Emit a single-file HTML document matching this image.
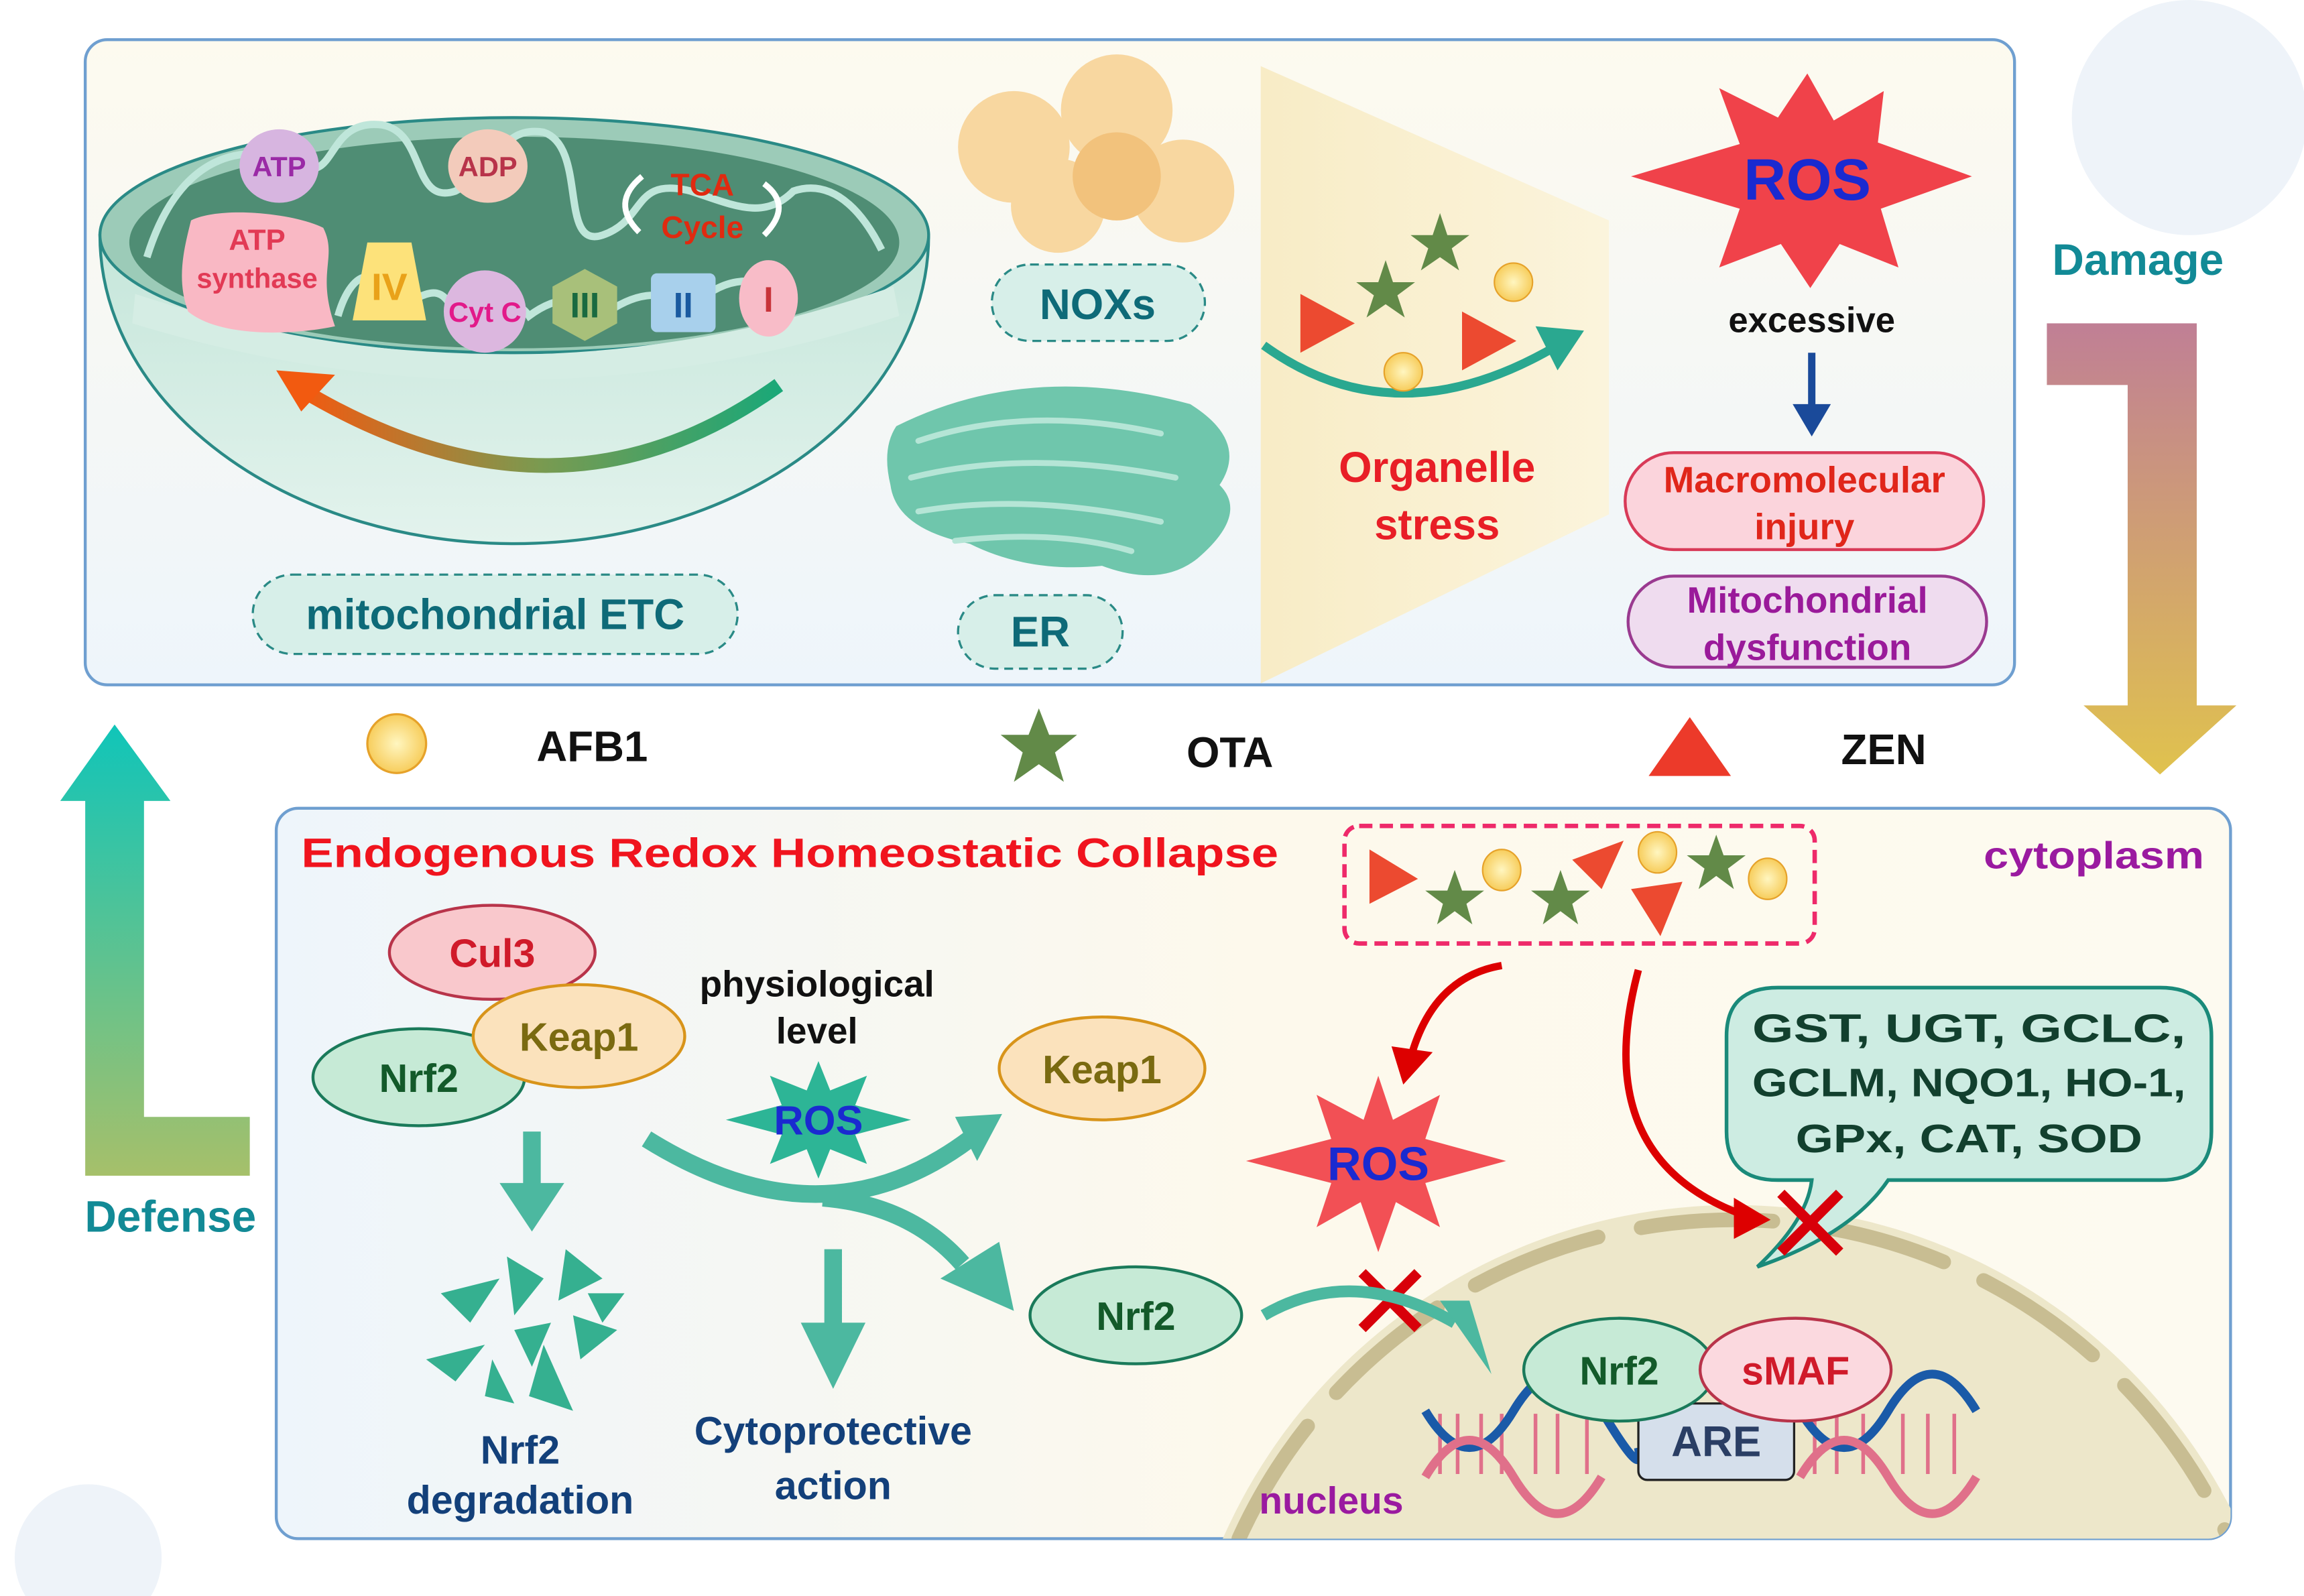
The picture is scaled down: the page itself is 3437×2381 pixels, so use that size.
<!DOCTYPE html>
<html><head><meta charset="utf-8"><style>
html,body{margin:0;padding:0;background:#fff;width:3437px;height:2381px;overflow:hidden}
svg{display:block;position:absolute;left:0;top:0}
text{font-family:"Liberation Sans",Arial,sans-serif;font-weight:bold;text-anchor:middle}
</style></head><body>
<svg width="3437" height="2381" viewBox="0 0 1568 1086" preserveAspectRatio="none" xmlns="http://www.w3.org/2000/svg">
<defs>
<linearGradient id="topbg" x1="0" y1="0" x2="0" y2="1"><stop offset="0" stop-color="#fdfaef"/><stop offset="1" stop-color="#eef5fb"/></linearGradient>
<linearGradient id="botbg" x1="0" y1="0" x2="1" y2="0"><stop offset="0" stop-color="#eef5fb"/><stop offset="0.5" stop-color="#fdf9ec"/><stop offset="1" stop-color="#fdfaf0"/></linearGradient>
<linearGradient id="bowl" x1="0" y1="0" x2="0" y2="1"><stop offset="0" stop-color="#c5e6da"/><stop offset="1" stop-color="#e3f3ed"/></linearGradient>
<linearGradient id="orarrow" x1="1" y1="0" x2="0" y2="0"><stop offset="0" stop-color="#1aa878"/><stop offset="0.5" stop-color="#7a9a50"/><stop offset="1" stop-color="#f25a10"/></linearGradient>
<linearGradient id="dmg" x1="0" y1="0" x2="0" y2="1"><stop offset="0" stop-color="#c07f95"/><stop offset="1" stop-color="#e0c24e"/></linearGradient>
<linearGradient id="def" x1="0" y1="0" x2="0" y2="1"><stop offset="0" stop-color="#10c5b9"/><stop offset="1" stop-color="#a6c06a"/></linearGradient>
<linearGradient id="tri" x1="0" y1="0" x2="1" y2="0"><stop offset="0" stop-color="#f8ecc6"/><stop offset="1" stop-color="#fbf4dc"/></linearGradient>
<radialGradient id="sun"><stop offset="0" stop-color="#fff6c0"/><stop offset="1" stop-color="#f7cd5c"/></radialGradient>
</defs>
<rect width="1568" height="1086" fill="#fff"/>
<circle cx="1490" cy="80" r="80" fill="#eef3f9"/>
<circle cx="60" cy="1060" r="50" fill="#eef3f9"/>
<!-- top panel -->
<rect x="58" y="27" width="1313" height="439" rx="15" fill="url(#topbg)" stroke="#6f9fd0" stroke-width="2"/>
<!-- mitochondrion -->
<path d="M68,160 A282,210 0 0 0 632,160 Z" fill="url(#bowl)" stroke="#2a8a86" stroke-width="2"/>
<ellipse cx="350" cy="160" rx="282" ry="80" fill="#9ccbb8" stroke="#2a8a86" stroke-width="2"/>
<ellipse cx="350" cy="165" rx="262" ry="72" fill="#4f8d74"/>
<path d="M92,200 Q350,285 608,195 L612,215 Q350,300 90,220 Z" fill="#d5ede4"/>
<path d="M530,262 Q380,370 205,265" fill="none" stroke="url(#orarrow)" stroke-width="10"/>
<polygon points="188,252 228,255 205,280" fill="#f25a10"/>
<path d="M100,175 C120,110 160,95 200,110 C230,130 220,80 260,85 C290,90 280,140 310,130 C340,115 340,85 370,90 C400,100 380,170 410,160 C440,150 430,120 470,130 C500,140 520,150 540,130 C570,120 590,150 600,170" fill="none" stroke="#bfe6da" stroke-width="5"/>
<path d="M230,215 C240,180 260,180 270,210 C290,200 300,190 310,215 C330,205 350,200 360,215 C380,200 400,200 410,215 C430,200 450,195 470,210 C490,190 510,185 540,200" fill="none" stroke="#bfe6da" stroke-width="5"/>
<ellipse cx="190" cy="113" rx="27" ry="25" fill="#d7b5e0"/><text x="190" y="120" font-size="19" fill="#9a2aa6">ATP</text>
<ellipse cx="332" cy="113" rx="27" ry="25" fill="#f3cbbb"/><text x="332" y="120" font-size="19" fill="#b8344a">ADP</text>
<text x="478" y="133" font-size="21" fill="#e02a10">TCA</text><text x="478" y="162" font-size="21" fill="#e02a10">Cycle</text>
<path d="M435,158 Q415,138 437,120" fill="none" stroke="#fff" stroke-width="4"/><path d="M520,125 Q540,140 520,160" fill="none" stroke="#fff" stroke-width="4"/>
<path d="M130,150 C150,140 200,145 220,155 C230,175 215,185 228,222 C200,228 150,230 128,212 C120,190 125,170 130,150 Z" fill="#f9b8c4"/>
<text x="175" y="170" font-size="20" fill="#e23a55">ATP</text><text x="175" y="196" font-size="19" fill="#e23a55">synthase</text>
<polygon points="250,165 280,165 290,218 240,218" fill="#fde27a"/><text x="265" y="204" font-size="26" fill="#e9a21a" font-weight="normal">IV</text>
<circle cx="330" cy="212" r="28" fill="#dcb7df"/><text x="330" y="219" font-size="19" fill="#e21a8a">Cyt C</text>
<polygon points="398,183 420,195 420,220 398,232 376,220 376,195" fill="#a8c07a"/><text x="398" y="216" font-size="24" fill="#1a6a40">III</text>
<rect x="443" y="186" width="44" height="40" rx="4" fill="#a8d0ec"/><text x="465" y="216" font-size="24" fill="#1a5aa0">II</text>
<ellipse cx="523" cy="203" rx="20" ry="26" fill="#f8bcc8"/><text x="523" y="212" font-size="24" fill="#c8343a" font-weight="normal">I</text>
<rect x="172" y="391" width="330" height="54" rx="27" fill="#d7efe9" stroke="#2a8a86" stroke-width="1.5" stroke-dasharray="6,4"/>
<text x="337" y="428" font-size="29" fill="#0e6a78">mitochondrial ETC</text>
<!-- NOXs -->
<g fill="#f8d7a0"><circle cx="690" cy="100" r="38"/><circle cx="760" cy="75" r="38"/><circle cx="805" cy="130" r="35"/><circle cx="720" cy="140" r="32"/><circle cx="760" cy="120" r="30" fill="#f2c27c"/></g>
<rect x="675" y="180" width="145" height="52" rx="26" fill="#d7efe9" stroke="#2a8a86" stroke-width="1.5" stroke-dasharray="6,4"/>
<text x="747" y="217" font-size="29" fill="#0e6a78">NOXs</text>
<!-- ER -->
<path d="M610,290 Q700,245 810,275 Q850,300 830,330 Q850,350 815,380 Q790,400 750,385 Q700,390 660,370 Q610,360 606,330 Q600,305 610,290 Z" fill="#6fc6ac"/>
<g fill="none" stroke="#b5e5d6" stroke-width="4" stroke-linecap="round">
<path d="M625,300 Q700,275 790,295"/><path d="M620,325 Q700,305 800,325"/><path d="M625,348 Q700,335 790,355"/><path d="M650,368 Q720,360 770,375"/></g>
<rect x="652" y="405" width="112" height="50" rx="25" fill="#d7efe9" stroke="#2a8a86" stroke-width="1.5" stroke-dasharray="6,4"/>
<text x="708" y="440" font-size="29" fill="#0e6a78">ER</text>
<!-- organelle stress -->
<polygon points="858,45 1095,150 1095,350 858,465" fill="url(#tri)"/>
<path d="M860,235 Q950,300 1060,235" fill="none" stroke="#2aa890" stroke-width="6"/><polygon points="1045,222 1078,225 1060,252" fill="#2aa890"/>
<polygon points="885,200 922,220 885,240" fill="#ec4a30"/><polygon points="995,212 1032,232 995,252" fill="#ec4a30"/>
<polygon points="980,145 985,160 1000,160 988,169 993,184 980,175 967,184 972,169 960,160 975,160" fill="#628a48"/>
<polygon points="943,177 948,192 963,192 951,201 956,216 943,207 930,216 935,201 923,192 938,192" fill="#628a48"/>
<circle cx="1030" cy="192" r="13" fill="url(#sun)" stroke="#e6a22a"/><circle cx="955" cy="253" r="13" fill="url(#sun)" stroke="#e6a22a"/>
<text x="978" y="328" font-size="29" fill="#e81e26">Organelle</text><text x="978" y="367" font-size="29" fill="#e81e26">stress</text>
<!-- ROS top -->
<polygon points="1230,50 1248,82 1282,62 1278,97 1342,120 1280,142 1292,182 1252,166 1232,196 1212,166 1170,182 1184,142 1110,120 1184,98 1170,60 1210,80" fill="#f0424a"/>
<text x="1230" y="136" font-size="40" fill="#1a2ad0">ROS</text>
<text x="1233" y="226" font-size="24" fill="#111">excessive</text>
<line x1="1233" y1="240" x2="1233" y2="282" stroke="#1a4a9a" stroke-width="5"/><polygon points="1220,275 1246,275 1233,297" fill="#1a4a9a"/>
<rect x="1106" y="308" width="244" height="66" rx="33" fill="#fbd4dc" stroke="#d83a58" stroke-width="2"/>
<text x="1228" y="335" font-size="25" fill="#e0261a">Macromolecular</text><text x="1228" y="367" font-size="25" fill="#e0261a">injury</text>
<rect x="1108" y="392" width="244" height="62" rx="31" fill="#efdcef" stroke="#9a3a90" stroke-width="2"/>
<text x="1230" y="417" font-size="25" fill="#9a1a9a">Mitochondrial</text><text x="1230" y="449" font-size="25" fill="#9a1a9a">dysfunction</text>
<!-- Damage -->
<text x="1455" y="187" font-size="30" fill="#128a96">Damage</text>
<path d="M1393,220 L1495,220 L1495,480 L1522,480 L1470,527 L1418,480 L1448,480 L1448,262 L1393,262 Z" fill="url(#dmg)"/>
<!-- Defense -->
<path d="M41,545 L78,493 L116,545 L98,545 L98,760 L170,760 L170,800 L58,800 L58,545 Z" fill="url(#def)"/>
<text x="116" y="838" font-size="30" fill="#128a96">Defense</text>
<!-- legend -->
<circle cx="270" cy="506" r="20" fill="url(#sun)" stroke="#e6a22a" stroke-width="1.5"/><text x="403" y="518" font-size="29" fill="#111">AFB1</text>
<polygon points="707,482 714,500 733,500 718,512 724,532 707,520 690,532 696,512 681,500 700,500" fill="#628a48"/><text x="837" y="522" font-size="29" fill="#111">OTA</text>
<polygon points="1150,488 1178,528 1122,528" fill="#ec3a2a"/><text x="1282" y="520" font-size="29" fill="#111">ZEN</text>
<!-- bottom panel -->
<rect x="188" y="550" width="1330" height="497" rx="15" fill="url(#botbg)" stroke="#6f9fd0" stroke-width="2"/>
<text x="205" y="590" font-size="28" fill="#f0141e" style="text-anchor:start" textLength="665" lengthAdjust="spacingAndGlyphs">Endogenous Redox Homeostatic Collapse</text>
<text x="1425" y="591" font-size="26" fill="#9a1aa0" textLength="150" lengthAdjust="spacingAndGlyphs">cytoplasm</text>
<!-- nucleus -->
<clipPath id="pc"><rect x="188" y="550" width="1330" height="497" rx="15"/></clipPath>
<g clip-path="url(#pc)">
<circle cx="1180" cy="1200" r="380" fill="#ede7ca"/>
<circle cx="1180" cy="1200" r="370" fill="none" stroke="#c8bd92" stroke-width="10" stroke-dasharray="90,30" stroke-linecap="round"/>
</g>
<text x="906" y="1030" font-size="26" fill="#9a1aa0">nucleus</text>
<!-- red dashed box -->
<rect x="915" y="562" width="320" height="80" rx="10" fill="none" stroke="#ee2a6a" stroke-width="3" stroke-dasharray="9,5"/>
<polygon points="932,578 965,598 932,615" fill="#ec4a30"/><polygon points="1070,585 1105,572 1090,605" fill="#ec4a30"/><polygon points="1110,605 1145,600 1130,637" fill="#ec4a30"/>
<polygon points="990,592 995,606 1010,606 998,615 1002,629 990,620 978,629 982,615 970,606 985,606" fill="#628a48"/>
<polygon points="1062,592 1067,606 1082,606 1070,615 1074,629 1062,620 1050,629 1054,615 1042,606 1057,606" fill="#628a48"/>
<polygon points="1168,568 1173,582 1188,582 1176,591 1180,605 1168,596 1156,605 1160,591 1148,582 1163,582" fill="#628a48"/>
<ellipse cx="1022" cy="592" rx="13" ry="14" fill="url(#sun)" stroke="#e6a22a"/><ellipse cx="1128" cy="580" rx="13" ry="14" fill="url(#sun)" stroke="#e6a22a"/><ellipse cx="1203" cy="598" rx="13" ry="14" fill="url(#sun)" stroke="#e6a22a"/>
<!-- red arrows -->
<path d="M1022,657 Q975,665 960,720" fill="none" stroke="#d00" stroke-width="5"/><polygon points="947,712 975,716 955,738" fill="#d00"/>
<path d="M1115,660 Q1080,790 1190,828" fill="none" stroke="#d00" stroke-width="5"/><polygon points="1180,815 1205,830 1180,843" fill="#d00"/>
<!-- ROS red -->
<polygon points="938,732 948,762 980,745 970,775 1025,790 970,805 980,835 950,818 938,852 926,818 896,835 906,805 848,790 906,775 896,745 928,762" fill="#f25055"/>
<text x="938" y="803" font-size="32" fill="#1a2ad0">ROS</text>
<!-- speech bubble -->
<path d="M1210,672 L1470,672 Q1505,672 1505,705 L1505,770 Q1505,803 1470,803 L1285,803 Q1260,840 1196,862 Q1230,830 1233,803 L1210,803 Q1175,803 1175,770 L1175,705 Q1175,672 1210,672 Z" fill="#cdece2" stroke="#1a8a7a" stroke-width="2.5"/>
<g font-size="27" fill="#12402e"><text x="1340" y="709" textLength="295" lengthAdjust="spacingAndGlyphs">GST, UGT, GCLC,</text><text x="1340" y="746" textLength="295" lengthAdjust="spacingAndGlyphs">GCLM, NQO1, HO-1,</text><text x="1340" y="784" textLength="236" lengthAdjust="spacingAndGlyphs">GPx, CAT, SOD</text></g>
<!-- X marks -->
<g stroke="#d8000a" stroke-width="7"><line x1="1212" y1="812" x2="1252" y2="852"/><line x1="1252" y1="812" x2="1212" y2="852"/><line x1="927" y1="866" x2="965" y2="904"/><line x1="965" y1="866" x2="927" y2="904"/></g>
<!-- left cluster -->
<ellipse cx="335" cy="648" rx="70" ry="32" fill="#f9c8cc" stroke="#b8344a" stroke-width="2"/><text x="335" y="658" font-size="27" fill="#d01a2a">Cul3</text>
<ellipse cx="285" cy="733" rx="72" ry="33" fill="#c6ead6" stroke="#1a7a5a" stroke-width="2"/><text x="285" y="743" font-size="27" fill="#135a2a">Nrf2</text>
<ellipse cx="394" cy="705" rx="72" ry="35" fill="#fbe2bc" stroke="#d8941a" stroke-width="2"/><text x="394" y="715" font-size="27" fill="#7a6a10">Keap1</text>
<text x="556" y="678" font-size="25" fill="#111">physiological</text><text x="556" y="710" font-size="25" fill="#111">level</text>
<polygon points="557,722 565,742 590,732 582,752 620,762 582,772 590,792 565,782 557,802 549,782 524,792 532,772 494,762 532,752 524,732 549,742" fill="#2db596"/>
<text x="557" y="772" font-size="28" fill="#1a2ad0">ROS</text>
<!-- teal arrows -->
<path d="M440,775 Q560,850 660,775" fill="none" stroke="#4cb8a0" stroke-width="12"/><polygon points="650,760 682,758 665,790" fill="#4cb8a0"/>
<path d="M560,815 Q620,820 655,860" fill="none" stroke="#4cb8a0" stroke-width="12"/><polygon points="640,870 690,892 680,845" fill="#4cb8a0"/>
<path d="M860,895 Q920,860 990,900" fill="none" stroke="#4cb8a0" stroke-width="8"/><polygon points="980,885 1015,935 1000,885" fill="#4cb8a0"/>
<line x1="362" y1="770" x2="362" y2="815" stroke="#4cb8a0" stroke-width="12"/><polygon points="340,805 384,805 362,838" fill="#4cb8a0"/>
<line x1="567" y1="850" x2="567" y2="915" stroke="#4cb8a0" stroke-width="12"/><polygon points="545,900 589,900 567,945" fill="#4cb8a0"/>
<ellipse cx="750" cy="727" rx="70" ry="35" fill="#fbe2bc" stroke="#d8941a" stroke-width="2"/><text x="750" y="737" font-size="27" fill="#7a6a10">Keap1</text>
<ellipse cx="773" cy="895" rx="72" ry="33" fill="#c6ead6" stroke="#1a7a5a" stroke-width="2"/><text x="773" y="905" font-size="27" fill="#135a2a">Nrf2</text>
<!-- fragments -->
<g fill="#35b090"><polygon points="300,880 340,870 320,900"/><polygon points="345,855 370,870 350,895"/><polygon points="385,850 410,870 380,885"/><polygon points="390,895 420,905 395,925"/><polygon points="290,925 330,915 310,940"/><polygon points="370,915 390,960 360,950"/><polygon points="335,925 350,955 330,950"/><polygon points="400,880 425,880 410,900"/><polygon points="350,905 375,900 362,930"/></g>
<text x="354" y="996" font-size="27" fill="#13407a">Nrf2</text><text x="354" y="1030" font-size="27" fill="#13407a">degradation</text>
<text x="567" y="983" font-size="27" fill="#13407a">Cytoprotective</text><text x="567" y="1020" font-size="27" fill="#13407a">action</text>
<!-- DNA -->
<g stroke-width="2.5">
<g stroke="#e0708a"><line x1="980" y1="962" x2="980" y2="1003"/><line x1="992" y1="962" x2="992" y2="1003"/><line x1="1008" y1="962" x2="1008" y2="1003"/><line x1="1022" y1="962" x2="1022" y2="1003"/><line x1="1045" y1="962" x2="1045" y2="1003"/><line x1="1060" y1="962" x2="1060" y2="1003"/><line x1="1080" y1="962" x2="1080" y2="1003"/>
<line x1="1235" y1="962" x2="1235" y2="1003"/><line x1="1250" y1="962" x2="1250" y2="1003"/><line x1="1268" y1="962" x2="1268" y2="1003"/><line x1="1295" y1="962" x2="1295" y2="1003"/><line x1="1312" y1="962" x2="1312" y2="1003"/><line x1="1330" y1="962" x2="1330" y2="1003"/></g></g>
<g stroke-width="6" fill="none">
<path d="M970,960 Q1000,1010 1030,960 T1090,960 T1115,985" stroke="#1a5aa8"/><path d="M970,1005 Q1000,955 1030,1005 T1090,1005" stroke="#e0708a"/>
<path d="M1225,960 Q1255,1010 1285,960 T1345,960" stroke="#1a5aa8"/><path d="M1225,1005 Q1255,955 1285,1005 T1345,1005" stroke="#e0708a"/></g>
<rect x="1115" y="955" width="106" height="52" rx="6" fill="#d5dfeb" stroke="#222" stroke-width="1.5"/>
<text x="1168" y="991" font-size="29" fill="#2a3e64">ARE</text>
<ellipse cx="1102" cy="932" rx="65" ry="35" fill="#c6ead6" stroke="#1a7a5a" stroke-width="2"/><text x="1102" y="942" font-size="27" fill="#135a2a">Nrf2</text>
<ellipse cx="1222" cy="932" rx="65" ry="35" fill="#fbd9df" stroke="#b8344a" stroke-width="2"/><text x="1222" y="942" font-size="27" fill="#d01a2a">sMAF</text>
</svg>
</body></html>
